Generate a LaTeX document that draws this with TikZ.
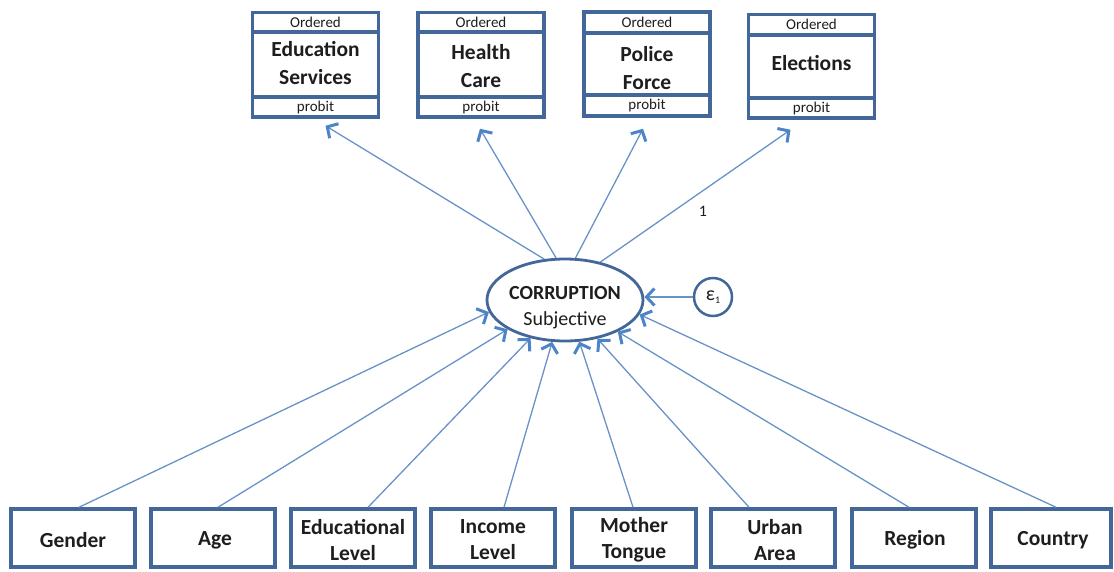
\documentclass[tikz,border=0pt]{standalone}
\usepackage{fontspec}
\setmainfont{Carlito}
\usetikzlibrary{arrows.meta,shapes.geometric}
\definecolor{boxblue}{RGB}{66,103,152}
\definecolor{linkblue}{RGB}{104,146,200}
\definecolor{tipblue}{RGB}{76,132,200}
\definecolor{ink}{RGB}{30,30,30}
\begin{document}
\begin{tikzpicture}[x=1pt,y=-1pt,
  part/.style={draw=boxblue, line width=3.5pt, fill=white, inner sep=0pt, minimum width=126pt, text=ink},
  headrow/.style={part, font=\fontsize{15}{16}\selectfont},
  mainrow/.style={part},
  mainlabel/.style={align=center, text=ink, inner sep=0pt, font=\bfseries\fontsize{21.5}{28}\selectfont},
  inbox/.style={draw=boxblue, line width=3.5pt, fill=white, inner sep=0pt, minimum height=58pt},
  inlabel/.style={align=center, text=ink, inner sep=0pt, font=\bfseries\fontsize{21.5}{26}\selectfont},
  link/.style={draw=linkblue, line width=1.3pt,
    -{Straight Barb[length=8pt,width=17pt,line width=3pt,color=tipblue]}},
]
\useasboundingbox (0,0) rectangle (1114,571);

% ---- ordered probit outcomes (header / name / footer) ----
\node[headrow, minimum height=20pt] (h1) at (315.5,22.5) {Ordered};
\node[mainrow, minimum height=65pt] (m1) at (315.5,64.5) {};
\node[headrow, minimum height=20pt] (f1) at (315.5,107) {probit};
\node[mainlabel] (t1) at (315.5,63) {Education\\Services};

\node[headrow, minimum height=20pt] (h2) at (481,22.5) {Ordered};
\node[mainrow, minimum height=65pt] (m2) at (481,64.5) {};
\node[headrow, minimum height=20pt] (f2) at (481,107) {probit};
\node[mainlabel] (t2) at (481,66.5) {Health\\Care};

\node[headrow, minimum height=21pt] (h3) at (647,22.5) {Ordered};
\node[mainrow, minimum height=62pt] (m3) at (647,64) {};
\node[headrow, minimum height=21pt] (f3) at (647,105.5) {probit};
\node[mainlabel] (t3) at (647,68.5) {Police\\Force};

\node[headrow, minimum height=20.5pt] (h4) at (811.5,24.75) {Ordered};
\node[mainrow, minimum height=63pt] (m4) at (811.5,66.5) {};
\node[headrow, minimum height=20pt] (f4) at (811.5,108) {probit};
\node[mainlabel] (t4) at (811.5,63) {Elections};

% ---- latent variable and its error term ----
\node[ellipse, draw=boxblue, line width=2.8pt, fill=white, inner sep=0pt,
      minimum width=156pt, minimum height=82pt] (ell) at (565,300) {};
\node[align=center, text=ink, font=\fontsize{20}{26}\selectfont] (ltext) at (565,308)
  {\textbf{CORRUPTION}\\Subjective};
\node[circle, draw=boxblue, line width=2.5pt, fill=white, inner sep=0pt,
      minimum size=38pt, text=ink] (eps) at (713,297)
  {{\fontsize{20}{20}\selectfont ε}\raisebox{-3pt}{\fontsize{10}{10}\selectfont 1}};

% ---- observed covariates ----
\node[inbox, minimum width=124pt] (g1) at (73,538) {};
\node[inbox, minimum width=124pt] (g2) at (213,538) {};
\node[inbox, minimum width=124pt] (g3) at (353,538) {};
\node[inbox, minimum width=124pt] (g4) at (493,538) {};
\node[inbox, minimum width=124pt] (g5) at (634,538) {};
\node[inbox, minimum width=124pt] (g6) at (773,538) {};
\node[inbox, minimum width=124pt] (g7) at (914,538) {};
\node[inbox, minimum width=120pt] (g8) at (1051,538) {};
\node[inlabel] (l1) at (73,540)   {Gender};
\node[inlabel] (l2) at (215,540)  {Age};
\node[inlabel] (l3) at (353,540)  {Educational\\Level};
\node[inlabel] (l4) at (493,540)  {Income\\Level};
\node[inlabel] (l5) at (634,540)  {Mother\\Tongue};
\node[inlabel] (l6) at (775,540)  {Urban\\Area};
\node[inlabel] (l7) at (915,540)  {Region};
\node[inlabel] (l8) at (1053,540) {Country};

% ---- measurement paths ----
\draw[link] (ell.117) -- ([xshift=10pt,yshift=-7pt]f1.south);
\draw[link] (ell.102) -- ([xshift=-1pt,yshift=-10pt]f2.south);
\draw[link] (ell.76)  -- ([xshift=-4pt,yshift=-11pt]f3.south);
\draw[link] (ell.47)  -- ([xshift=-21pt,yshift=-10pt]f4.south);
\node[text=ink, font=\fontsize{16}{16}\selectfont] (one) at (703,211) {1};

% ---- structural paths ----
\draw[link] ([xshift=6pt]g1.north)  -- (ell.189);
\draw[link] ([xshift=5pt]g2.north)  -- (ell.207);
\draw[link] ([xshift=15pt]g3.north) -- (ell.228);
\draw[link] ([xshift=11pt]g4.north) -- (ell.253);
\draw[link] ([xshift=-1pt]g5.north) -- (ell.289);
\draw[link] ([xshift=-24pt]g6.north) -- (ell.310);
\draw[link] ([xshift=-5pt]g7.north) -- (ell.329);
\draw[link] ([xshift=5pt]g8.north)  -- (ell.349);
\draw[link] (eps.west) -- (eps.west -| ell.east);
\end{tikzpicture}
\end{document}
